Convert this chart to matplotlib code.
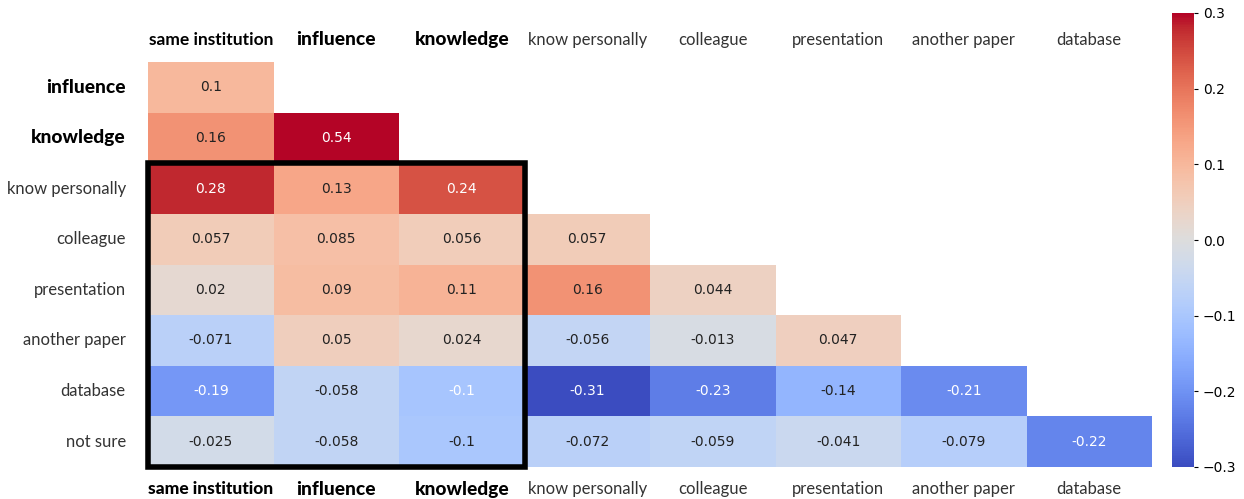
import numpy as np
import matplotlib
matplotlib.use("Agg")
import matplotlib.pyplot as plt
import seaborn as sns
from matplotlib.patches import Rectangle

# correlation values, lower triangle (NaN = masked)
row_labels = ["influence", "knowledge", "know personally", "colleague",
              "presentation", "another paper", "database", "not sure"]
col_labels = ["same institution", "influence", "knowledge", "know personally",
              "colleague", "presentation", "another paper", "database"]
nan = np.nan
corr = np.array([
    [0.1, nan, nan, nan, nan, nan, nan, nan],
    [0.16, 0.54, nan, nan, nan, nan, nan, nan],
    [0.28, 0.13, 0.24, nan, nan, nan, nan, nan],
    [0.057, 0.085, 0.056, 0.057, nan, nan, nan, nan],
    [0.02, 0.09, 0.11, 0.16, 0.044, nan, nan, nan],
    [-0.071, 0.05, 0.024, -0.056, -0.013, 0.047, nan, nan],
    [-0.19, -0.058, -0.104, -0.31, -0.23, -0.14, -0.21, nan],
    [-0.025, -0.058, -0.0996, -0.072, -0.059, -0.041, -0.079, -0.22],
])
bold_rows = ["influence", "knowledge"]
bold_cols = ["same institution", "influence", "knowledge"]

fig = plt.figure(figsize=(12.44, 4.99), dpi=100)
ax = fig.add_axes([148/1244, 1-467/499, (1152-148)/1244, (467-62)/499])
cax = fig.add_axes([1172/1244, 1-467/499, 22/1244, (467-13)/499])

sns.heatmap(corr, ax=ax, cbar_ax=cax, cmap="coolwarm", vmin=-0.3, vmax=0.3,
            annot=True, fmt=".2g", annot_kws={"size": 10},
            xticklabels=col_labels, yticklabels=row_labels)

# text colours as in the picture
for t in ax.texts:
    x, y = t.get_position()
    v = corr[int(y), int(x)]
    if v >= 0.2 or v <= -0.185 or (int(y) == 6 and int(x) == 2):
        t.set_color("white")
    else:
        t.set_color("#222222")

ax.tick_params(axis="both", length=0, top=True, labeltop=True, bottom=True, labelbottom=True)
ax.set_xticklabels(col_labels, rotation=0)
ax.set_yticklabels(row_labels, rotation=0)

def style(lab, bold):
    lab.set_fontfamily("Lato")
    if lab.get_text() in bold:
        lab.set_fontweight("black")
        lab.set_fontsize(13.8)
        lab.set_color("black")
    else:
        lab.set_fontweight("normal")
        lab.set_fontsize(12)
        lab.set_color("#333333")

for t in ax.xaxis.get_major_ticks():
    style(t.label1, bold_cols)
    style(t.label2, bold_cols)
# "same institution" is a bit lighter / smaller
ax.xaxis.get_major_ticks()[0].label2.set_fontweight("bold")
ax.xaxis.get_major_ticks()[0].label2.set_fontsize(12.5)
ax.xaxis.get_major_ticks()[0].label1.set_fontsize(12.5)
for t in ax.yaxis.get_major_ticks():
    style(t.label1, bold_rows)
ax.tick_params(axis="x", pad=10)
ax.tick_params(axis="y", pad=16)

ax.add_patch(Rectangle((0, 2), 3, 6, fill=False, edgecolor="black", lw=4, clip_on=False))

cax.tick_params(labelsize=10, length=3)
cax.set_yticks([-0.3, -0.2, -0.1, 0.0, 0.1, 0.2, 0.3])

fig.savefig("out.png", dpi=100)
